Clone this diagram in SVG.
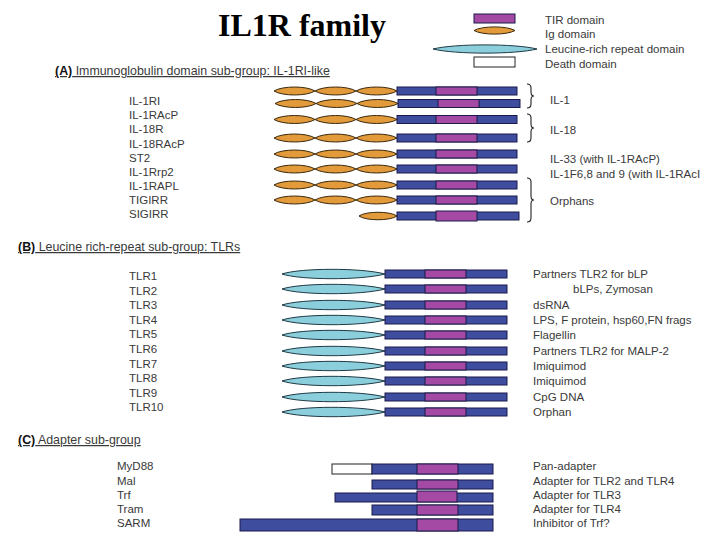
<svg xmlns="http://www.w3.org/2000/svg" width="720" height="540" viewBox="0 0 720 540">
<style>
.t{font-family:"Liberation Sans",Arial,sans-serif;font-size:11.5px;fill:#3a3a3a}
.hd{font-size:12.4px;text-decoration:underline}
.b{font-weight:bold;fill:#111}
.title{font-family:"Liberation Serif","Times New Roman",serif;font-size:32px;font-weight:bold;fill:#000}
.ig{fill:#e39a3b;stroke:#3a2a10;stroke-width:1}
.lrr{fill:#8ccfdc;stroke:#1f3a45;stroke-width:1}
.bl{fill:#3e4d9e;stroke:#1b1b4a;stroke-width:1}
.tir{fill:#a44aa5;stroke:#1b1b4a;stroke-width:1}
.dd{fill:#fff;stroke:#222;stroke-width:1}
.br{fill:none;stroke:#222;stroke-width:1.1}
</style>
<defs>
<path id="lens" d="M-20.5,0 C-12,-5.3 12,-5.3 20.5,0 C12,5.3 -12,5.3 -20.5,0 Z"/>
<g id="igbar">
<use href="#lens" class="ig" x="294.5"/>
<use href="#lens" class="ig" x="335.5"/>
<use href="#lens" class="ig" x="376.5"/>
<rect class="bl" x="397" y="-4" width="120" height="8"/>
<rect class="tir" x="436" y="-4" width="41" height="8"/>
</g>
<g id="tlrbar">
<path class="lrr" d="M282,0 C300,-6 360,-6.5 385,0 C360,6.5 300,6 282,0 Z"/>
<rect class="bl" x="385" y="-4" width="122" height="8"/>
<rect class="tir" x="425" y="-4" width="41" height="8"/>
</g>
</defs>
<rect width="720" height="540" fill="#fff"/>
<text class="title" x="218" y="36">IL1R family</text>
<g id="legend">
<rect class="tir" x="474" y="14" width="41" height="9"/>
<path class="ig" d="M474,30.5 C482,25.7 507,25.7 515,30.5 C507,35.3 482,35.3 474,30.5 Z"/>
<path class="lrr" d="M433,49 C455,43.5 515,43.5 537,49 C515,54.5 455,54.5 433,49 Z"/>
<rect class="dd" x="474" y="57" width="41" height="10"/>
<text class="t" x="545" y="24">TIR domain</text>
<text class="t" x="545" y="38">Ig domain</text>
<text class="t" x="545" y="53">Leucine-rich repeat domain</text>
<text class="t" x="545" y="68">Death domain</text>
</g>
<g id="sectionA">
<text class="t hd" x="55" y="75"><tspan class="b">(A)</tspan> Immunoglobulin domain sub-group: IL-1RI-like</text>
<g id="IL-1RI"><text class="t" x="129" y="105">IL-1RI</text><use href="#igbar" y="91"/></g>
<g id="IL-1RAcP"><text class="t" x="129" y="119">IL-1RAcP</text>
<use href="#lens" class="ig" x="295.5" y="103.5"/><use href="#lens" class="ig" x="336.5" y="103.5"/><use href="#lens" class="ig" x="377.5" y="103.5"/>
<rect class="bl" x="398" y="99.5" width="122" height="8"/><rect class="tir" x="438" y="99.5" width="41" height="8"/></g>
<g id="IL-18R"><text class="t" x="129" y="133">IL-18R</text><use href="#igbar" y="119.5"/></g>
<g id="IL-18RAcP"><text class="t" x="129" y="148">IL-18RAcP</text><use href="#igbar" y="138"/></g>
<g id="ST2"><text class="t" x="129" y="162">ST2</text><use href="#igbar" y="154"/></g>
<g id="IL-1Rrp2"><text class="t" x="129" y="176">IL-1Rrp2</text><use href="#igbar" y="169"/></g>
<g id="IL-1RAPL"><text class="t" x="129" y="190">IL-1RAPL</text><use href="#igbar" y="185"/></g>
<g id="TIGIRR"><text class="t" x="129" y="204">TIGIRR</text><use href="#igbar" y="200"/></g>
<g id="SIGIRR"><text class="t" x="129" y="218">SIGIRR</text>
<path class="ig" d="M359,216 C366,211 390,211 397,216 C390,221 366,221 359,216 Z"/>
<rect class="bl" x="397" y="212" width="122" height="8"/><rect class="tir" x="436" y="211" width="41" height="10"/></g>
<g id="braces">
<path class="br" d="M527,84 q4,0 4,4 v4 q0,4 3,4 q-3,0 -3,4 v4 q0,4 -4,4"/>
<path class="br" d="M527,114 q4,0 4,4 v6 q0,4 3,4 q-3,0 -3,4 v6 q0,4 -4,4"/>
<path class="br" d="M527,178 q4,0 4,4 v14 q0,4 3,4 q-3,0 -3,4 v14 q0,4 -4,4"/>
</g>
<text class="t" x="550" y="104">IL-1</text>
<text class="t" x="550" y="134">IL-18</text>
<text class="t" x="550" y="163">IL-33 (with IL-1RAcP)</text>
<text class="t" x="550" y="178">IL-1F6,8 and 9 (with IL-1RAcI</text>
<text class="t" x="550" y="205">Orphans</text>
</g>
<g id="sectionB">
<text class="t hd" x="18" y="251"><tspan class="b">(B)</tspan> Leucine rich-repeat sub-group: TLRs</text>
<g id="TLR1"><text class="t" x="129" y="280">TLR1</text><use href="#tlrbar" y="274"/><text class="t" x="533" y="278">Partners TLR2 for bLP</text></g>
<g id="TLR2"><text class="t" x="129" y="294.6">TLR2</text><use href="#tlrbar" y="289"/><text class="t" x="573" y="293">bLPs, Zymosan</text></g>
<g id="TLR3"><text class="t" x="129" y="309.2">TLR3</text><use href="#tlrbar" y="305"/><text class="t" x="533" y="309">dsRNA</text></g>
<g id="TLR4"><text class="t" x="129" y="323.8">TLR4</text><use href="#tlrbar" y="320"/><text class="t" x="533" y="324">LPS, F protein, hsp60,FN frags</text></g>
<g id="TLR5"><text class="t" x="129" y="338.4">TLR5</text><use href="#tlrbar" y="335"/><text class="t" x="533" y="339">Flagellin</text></g>
<g id="TLR6"><text class="t" x="129" y="353">TLR6</text><use href="#tlrbar" y="351"/><text class="t" x="533" y="355">Partners TLR2 for MALP-2</text></g>
<g id="TLR7"><text class="t" x="129" y="367.6">TLR7</text><use href="#tlrbar" y="366"/><text class="t" x="533" y="370">Imiquimod</text></g>
<g id="TLR8"><text class="t" x="129" y="382.2">TLR8</text><use href="#tlrbar" y="381"/><text class="t" x="533" y="385">Imiquimod</text></g>
<g id="TLR9"><text class="t" x="129" y="396.8">TLR9</text><use href="#tlrbar" y="397"/><text class="t" x="533" y="401">CpG DNA</text></g>
<g id="TLR10"><text class="t" x="129" y="411.4">TLR10</text><use href="#tlrbar" y="412"/><text class="t" x="533" y="416">Orphan</text></g>
</g>
<g id="sectionC">
<text class="t hd" x="18" y="444"><tspan class="b">(C)</tspan> Adapter sub-group</text>
<g id="MyD88"><text class="t" x="117" y="470">MyD88</text>
<rect class="dd" x="332" y="464" width="40" height="10"/><rect class="bl" x="372" y="464" width="121" height="10"/><rect class="tir" x="417" y="464" width="41" height="10"/>
<text class="t" x="533" y="470">Pan-adapter</text></g>
<g id="Mal"><text class="t" x="117" y="485">Mal</text>
<rect class="bl" x="372" y="480" width="121" height="9"/><rect class="tir" x="417" y="480" width="41" height="9"/>
<text class="t" x="533" y="485">Adapter for TLR2 and TLR4</text></g>
<g id="Trf"><text class="t" x="117" y="499">Trf</text>
<rect class="bl" x="335" y="493" width="158" height="9"/><rect class="tir" x="417" y="491" width="40" height="11"/>
<text class="t" x="533" y="499">Adapter for TLR3</text></g>
<g id="Tram"><text class="t" x="117" y="513">Tram</text>
<rect class="bl" x="372" y="505" width="121" height="10"/><rect class="tir" x="417" y="505" width="41" height="10"/>
<text class="t" x="533" y="513">Adapter for TLR4</text></g>
<g id="SARM"><text class="t" x="117" y="527">SARM</text>
<rect class="bl" x="240" y="519" width="253" height="12"/><rect class="tir" x="417" y="519" width="41" height="12"/>
<text class="t" x="533" y="527">Inhibitor of Trf?</text></g>
</g>
</svg>
